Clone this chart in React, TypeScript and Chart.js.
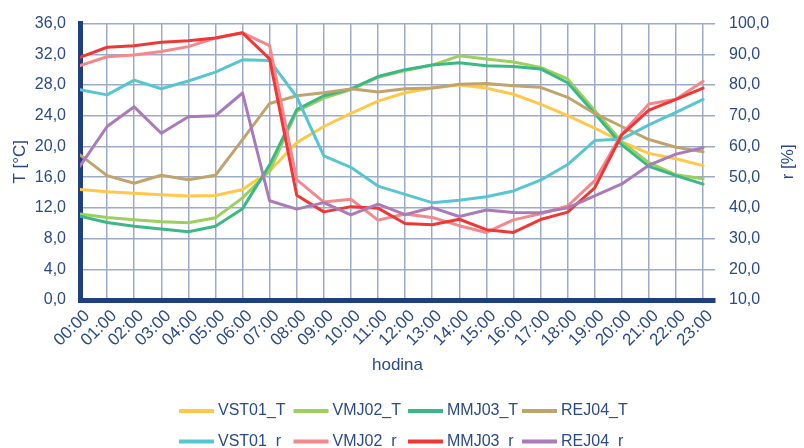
import React, { useEffect, useRef } from "react";
import { Chart, registerables } from "chart.js";

Chart.register(...registerables);

// ---- data ----
const hours = [
  "00:00", "01:00", "02:00", "03:00", "04:00", "05:00", "06:00", "07:00",
  "08:00", "09:00", "10:00", "11:00", "12:00", "13:00", "14:00", "15:00",
  "16:00", "17:00", "18:00", "19:00", "20:00", "21:00", "22:00", "23:00",
];

const VST01_T = [14.4, 14.1, 13.9, 13.7, 13.55, 13.6, 14.4, 16.8, 20.5, 22.6, 24.3, 25.9, 27.0, 27.6, 28.0, 27.6, 26.8, 25.5, 24.0, 22.4, 20.6, 19.1, 18.4, 17.5];
const VMJ02_T = [11.2, 10.75, 10.45, 10.2, 10.05, 10.7, 13.3, 16.8, 24.6, 26.3, 27.4, 29.0, 29.9, 30.6, 31.8, 31.4, 31.0, 30.3, 28.8, 24.7, 20.6, 17.9, 16.3, 15.8];
const MMJ03_T = [10.9, 10.1, 9.6, 9.25, 8.9, 9.6, 11.9, 17.6, 24.8, 26.6, 27.5, 29.1, 30.0, 30.6, 30.9, 30.5, 30.4, 30.1, 28.3, 24.3, 20.2, 17.4, 16.2, 15.1];
const REJ04_T = [18.9, 16.2, 15.2, 16.25, 15.65, 16.25, 20.9, 25.6, 26.6, 27.0, 27.5, 27.1, 27.5, 27.6, 28.1, 28.2, 27.9, 27.7, 26.4, 24.3, 22.6, 20.9, 19.9, 19.3];

const VST01_r = [78.5, 76.8, 81.6, 78.8, 81.3, 84.2, 88.2, 88.0, 76.1, 56.9, 53.2, 47.1, 44.4, 41.7, 42.5, 43.6, 45.5, 49.0, 54.1, 61.9, 62.4, 67.0, 71.1, 75.3];
const VMJ02_r = [86.3, 89.2, 89.8, 90.9, 92.5, 95.3, 97.0, 92.8, 49.2, 41.9, 42.8, 36.0, 38.0, 36.9, 34.2, 32.0, 36.1, 38.1, 40.6, 48.9, 64.1, 73.8, 75.4, 81.2];
const MMJ03_r = [89.0, 92.3, 92.8, 93.9, 94.4, 95.3, 97.0, 88.5, 44.1, 38.7, 40.4, 39.9, 34.9, 34.5, 36.3, 32.9, 32.0, 36.2, 38.6, 46.5, 63.8, 71.8, 75.3, 79.0];
const REJ04_r = [53.6, 66.5, 72.9, 64.3, 69.7, 70.0, 77.4, 42.3, 39.6, 41.7, 37.7, 41.2, 37.8, 40.1, 37.2, 39.3, 38.5, 38.4, 40.0, 43.9, 47.8, 53.9, 57.5, 59.6];

const seriesNames = ["VST01_T", "VMJ02_T", "MMJ03_T", "REJ04_T", "VST01_r", "VMJ02_r", "MMJ03_r", "REJ04_r"];
const seriesValues = [VST01_T, VMJ02_T, MMJ03_T, REJ04_T, VST01_r, VMJ02_r, MMJ03_r, REJ04_r];
const seriesAxes = ["yT", "yT", "yT", "yT", "yR", "yR", "yR", "yR"];
const seriesColors = ["#FFC84A", "#9DCF5E", "#3CB886", "#BFA46E", "#57C6D1", "#F3888D", "#EE3838", "#A97BB8"];

const leftTitle = "T [°C]";
const rightTitle = "r [%]";
const xTitle = "hodina";

// ---- style ----
const TEXT = "#2C4A87";
const GRID = "#9DAAC8";
const AXIS = "#1F3F7E";
const FONT = "'Liberation Sans', Arial, sans-serif";

const fmt = (v: number) => v.toFixed(1).replace(".", ",");

export default function App() {
  const ref = useRef<HTMLCanvasElement>(null);

  useEffect(() => {
    const canvas = ref.current;
    if (!canvas) return;

    const datasets = seriesNames.map((name, i) => ({
      label: name,
      data: seriesValues[i].map((v, j) => ({ x: j, y: v })),
      yAxisID: seriesAxes[i],
      borderColor: seriesColors[i],
      backgroundColor: seriesColors[i],
      borderWidth: 3,
      pointRadius: 0,
      pointHoverRadius: 0,
      tension: 0,
      fill: false,
      borderJoinStyle: "round" as const,
      borderCapStyle: "round" as const,
      order: seriesNames.length - i,
    }));

    const legendPlugin = {
      id: "customLegend",
      afterDraw(chart: any) {
        const ctx = chart.ctx as CanvasRenderingContext2D;
        ctx.save();
        ctx.font = `16px ${FONT}`;
        ctx.textBaseline = "middle";
        ctx.textAlign = "left";
        const colX = [179, 293.5, 408, 522];
        const rowY = [411, 441.5];
        seriesNames.forEach((name, i) => {
          const x = colX[i % 4];
          const y = rowY[Math.floor(i / 4)];
          ctx.strokeStyle = seriesColors[i];
          ctx.lineWidth = 4;
          ctx.beginPath();
          ctx.moveTo(x, y);
          ctx.lineTo(x + 35, y);
          ctx.stroke();
          ctx.fillStyle = TEXT;
          ctx.fillText(name, x + 39, y);
        });
        // right axis title, reading bottom-to-top
        ctx.translate(788, (chart.chartArea.top + chart.chartArea.bottom) / 2);
        ctx.rotate(-Math.PI / 2);
        ctx.textAlign = "center";
        ctx.font = `17px ${FONT}`;
        ctx.fillText(rightTitle, 0, 0);
        ctx.restore();
      },
    };

    const chart = new Chart(canvas, {
      type: "line",
      data: { datasets },
      plugins: [legendPlugin],
      options: {
        responsive: false,
        animation: false,
        events: [],
        layout: { padding: { top: 21, bottom: 68, left: 0, right: 0 } },
        plugins: {
          legend: { display: false },
          tooltip: { enabled: false },
        },
        scales: {
          x: {
            type: "linear",
            position: "bottom",
            min: 0,
            max: 23.44,
            afterFit: (s: any) => { s.height = 80; },
            ticks: {
              stepSize: 1,
              includeBounds: false,
              autoSkip: false,
              minRotation: 45,
              maxRotation: 45,
              padding: 6,
              labelOffset: 7,
              color: TEXT,
              font: { family: FONT, size: 17 },
              callback: (v: any) => hours[Number(v)] ?? "",
            },
            grid: { color: GRID, lineWidth: 1.5, drawTicks: false },
            border: { display: true, color: AXIS, width: 5 },
            title: {
              display: true,
              text: xTitle,
              color: TEXT,
              font: { family: FONT, size: 17 },
              padding: { top: 0, bottom: 4 },
            },
          },
          yT: {
            type: "linear",
            position: "left",
            min: 0,
            max: 36,
            afterFit: (s: any) => { s.width = 80; },
            ticks: {
              stepSize: 4,
              padding: 14,
              color: TEXT,
              font: { family: FONT, size: 16 },
              callback: (v: any) => fmt(Number(v)),
            },
            grid: { color: GRID, lineWidth: 1.5, drawTicks: false },
            border: { display: true, color: AXIS, width: 5 },
            title: {
              display: true,
              text: leftTitle,
              color: TEXT,
              font: { family: FONT, size: 17 },
              padding: { top: 10, bottom: 0 },
            },
          },
          yR: {
            type: "linear",
            position: "right",
            min: 10,
            max: 100,
            afterFit: (s: any) => { s.width = 89; },
            ticks: {
              stepSize: 10,
              padding: 14,
              color: TEXT,
              font: { family: FONT, size: 16 },
              callback: (v: any) => fmt(Number(v)),
            },
            grid: { display: false, drawTicks: false },
            border: { display: false },
          },
        },
      },
    });

    return () => chart.destroy();
  }, []);

  return (
    <div style={{ position: "fixed", left: 0, top: 0, width: 804, height: 448, background: "#fff" }}>
      <canvas ref={ref} width={804} height={448} />
    </div>
  );
}
